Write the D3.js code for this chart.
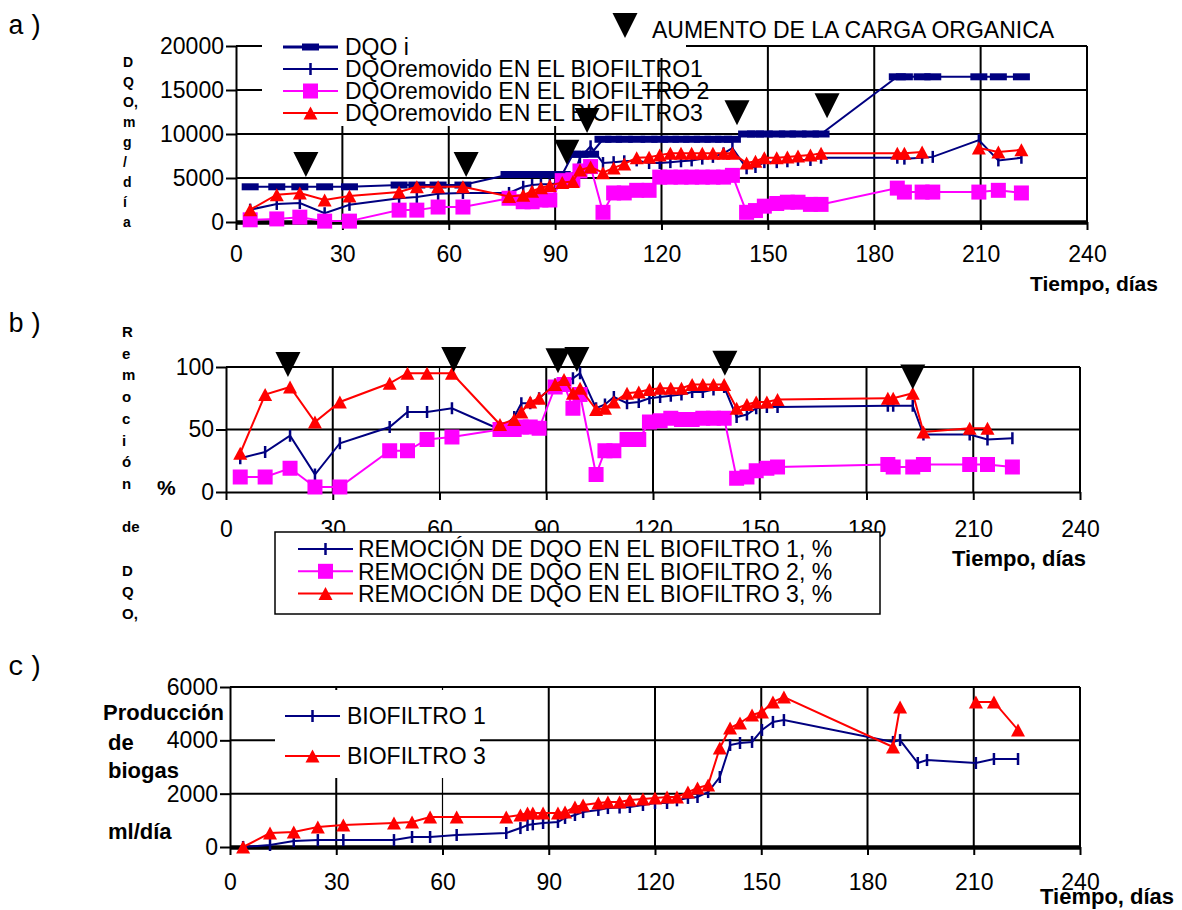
<!DOCTYPE html>
<html lang="es">
<head>
<meta charset="utf-8">
<title>DQO removida y biogas</title>
<script src="https://d3js.org/d3.v7.min.js"></script>
<style>
  body{margin:0;background:#fff;}
  svg{display:block;font-family:"Liberation Sans",Arial,sans-serif;}
</style>
</head>
<body>
<svg id="chart" width="1182" height="910"></svg>
<script>

/** Data */

var xTicks = [0, 30, 60, 90, 120, 150, 180, 210, 240];

// a) DQO, mg/dia
var yTicksA = [0, 5000, 10000, 15000, 20000];
var legendA = ["DQO i", "DQOremovido EN EL BIOFILTRO1", "DQOremovido EN EL BIOFILTRO 2", "DQOremovido EN EL BIOFILTRO3"];
var daysA = [4, 11.5, 18, 25, 32, 46, 51, 57, 64, 77, 81, 83.5, 86, 88.5, 92, 95, 97, 100,
	103.5, 106.5, 109.5, 113, 116.5, 119.5, 122.5, 125.5, 128.5, 131.5, 134.5, 137.5, 140,
	144, 146.5, 149, 152.5, 155.5, 158.5, 162, 165, 186.5, 188.5, 193.5, 196.5, 209.5, 215, 221.5];
var dqoI = [4000, 4000, 4000, 4000, 4000, 4200, 4200, 4200, 4200,
	5400, 5400, 5400, 5400, 5400, 5400, 7700, 7700, 7700,
	9400, 9400, 9400, 9400, 9400, 9400, 9400, 9400, 9400, 9400, 9400, 9400, 9400,
	10000, 10000, 10000, 10000, 10000, 10000, 10000, 10000,
	16500, 16500, 16500, 16500, 16500, 16500, 16500];
var remA1 = [1400, 2050, 2150, 1000, 1950, 2700, 2850, 3200, 3300,
	3300, 4000, 4200, 4300, 4300, 4500, 5000, 7300, 8600,
	6700, 6800, 6900, 7000, 6700, 6700, 6800, 6900, 7000, 7200, 7400, 7800, 8400,
	6100, 6250, 6800, 6800, 6900, 7050, 7050, 7300,
	7300, 7200, 7300, 7400, 9300, 7000, 7300];
var remA2 = [250, 350, 550, 100, 100, 1350, 1350, 1700, 1700,
	2700, 2300, 2300, 2500, 2500, 4700, 4800, 5800, 6300,
	1100, 3300, 3300, 3600, 3600, 5100, 5100, 5100, 5100, 5100, 5100, 5100, 5300,
	1100, 1300, 1800, 2100, 2250, 2250, 2000, 2000,
	3850, 3400, 3400, 3400, 3400, 3600, 3300];
var remA3 = [1400, 3100, 3300, 2500, 2950, 3400, 4000, 4000, 4000,
	2900, 3050, 3500, 3900, 4150, 4500, 4600, 5900, 6250,
	5600, 6150, 6600, 7300, 7350, 7600, 7800, 7800, 7800, 7800, 7800, 7800, 7800,
	6700, 6900, 7300, 7300, 7400, 7500, 7600, 7800,
	7800, 7800, 7950, null, 8400, 7950, 8200];
var arrowDaysA = [19.7, 64.9, 93.3, 99, 141.3, 166.7];
var arrowTipA = [5100, 5100, 6500, 10100, 11000, 11800];

// b) Remocion de DQO, %
var yTicksB = [0, 50, 100];
var legendB = ["REMOCIÓN DE DQO EN EL BIOFILTRO 1, %", "REMOCIÓN DE DQO EN EL BIOFILTRO 2, %", "REMOCIÓN DE DQO EN EL BIOFILTRO 3, %"];
var daysB = [4, 11, 18, 25, 32, 46, 51, 56.5, 63.5, 77, 81, 83, 85.5, 88, 92.5, 95, 97.5, 99.5,
	104, 106.5, 109, 112.7, 116, 119, 122, 125, 128, 131, 134, 137, 140,
	143.5, 146.4, 149, 152, 155, 186, 187.5, 193, 196, 209, 214, 221];
var remB1 = [27, 32, 45, 14, 39, 52, 64, 64, 67, 50, 60, 71, 71, 75, 86, 88, 91, 95,
	67, 70, 76, 71, 72, 75, 76, 77, 78, 80, 80, 82, 84,
	60, 62, 67, 68, 68, 69, 69, 69, 46, 46, 42, 43];
var remB2 = [12, 12, 19, 4, 4, 33, 33, 42, 44, 50, 50, 52, 52, 51, 84, 86, 67, 78,
	14, 33, 33, 42, 42, 56, 57, 59, 58, 58, 59, 59, 59,
	11, 12, 17, 19, 20, 22, 20, 20, 22, 22, 22, 20];
var remB3 = [31, 78, 84, 56, 72, 87, 95, 95, 95, 54, 58, 64, 72, 75, 86, 90, 79, 83,
	66, 67, 72, 79, 80, 82, 83, 83, 83, 86, 86, 86, 86,
	67, 70, 72, 72, 74, 75, 75, 79, 48, 51, 51, null];
var arrowDaysB = [17.4, 64, 93.3, 98.6, 140.2, 193];
var arrowTipB = [92, 96, 95, 96, 93, 82];

// c) Produccion de biogas, ml/dia
var yTicksC = [0, 2000, 4000, 6000];
var legendC = ["BIOFILTRO 1", "BIOFILTRO 3"];
var daysC = [3.7, 11.3, 18, 24.8, 32, 46.3, 51.4, 56.5, 64, 78, 82, 84, 85.5, 88.4, 92.6, 94.6, 97.4, 99.7,
	104, 106.7, 110, 112.9, 116.6, 120, 123.4, 126.2, 129.3, 132, 135, 138.3, 141.2, 144, 147.4, 150.2, 153.3, 156.4,
	187.2, 189.2, 194.2, 196.8, 210.6, 215.7, 222.5];
var bioC1 = [0, 75, 225, 260, 260, 260, 375, 375, 450, 525, 710, 825, 850, 900, 940, 1090, 1200, 1310,
	1390, 1460, 1480, 1500, 1575, 1650, 1650, 1750, 1840, 1875, 2060, 2625, 3825, 3900, 3940, 4390, 4690, 4760,
	3940, 4010, 3150, 3260, 3150, 3300, 3300];
var bioC3 = [0, 525, 560, 750, 825, 900, 940, 1125, 1125, 1125, 1200, 1275, 1275, 1275, 1275, 1310, 1500, 1575,
	1650, 1690, 1690, 1760, 1800, 1840, 1875, 1875, 2060, 2210, 2325, 3710, 4460, 4650, 4950, 5060, 5440, 5625,
	3750, 5250, null, null, 5440, 5440, 4390];

var NAVY = "#000080", MAG = "#ff00ff", RED = "#ff0000";

var svg = d3.select("#chart");
svg.append("rect").attr("width", 1182).attr("height", 910).attr("fill", "#fff");

/** Marker shapes, centred on the point */

function shape(type){
	if (type === "tick") return "M0,-6V6";
	if (type === "square") return "M-7.5,-7.5h15v15h-15z";
	if (type === "triangle") return "M-7,6.5L7,6.5L0,-6.5Z";
	if (type === "dash") return "M-8.5,-3.5h17v7h-17z";
	return "M-12.5,-25L12.5,-25L0,0Z";   // black arrow, tip on the point
}

function styleMarker(sel, type, color){
	if (type === "tick"){
		sel.attr("fill", "none").attr("stroke", color).attr("stroke-width", 2.5);
	} else {
		sel.attr("fill", color).attr("stroke", "none");
	}
}

/** Grid, axes and tick labels of one panel */

function drawFrame(x, y, yTicks, baseWidth, thinDay, labelY){
	var g = svg.append("g");
	var x0 = x(0), x1 = x(240), y0 = y(0), yTop = y(yTicks[yTicks.length - 1]);

	g.selectAll(null).data(yTicks.filter(function(v){ return v > 0; })).enter()
		.append("line")
		.attr("x1", x0).attr("x2", x1)
		.attr("y1", function(v){ return y(v); })
		.attr("y2", function(v){ return y(v); })
		.attr("stroke", "#000").attr("stroke-width", 2);

	g.selectAll(null).data(xTicks.filter(function(d){ return d > 0; })).enter()
		.append("line")
		.attr("x1", function(d){ return x(d); })
		.attr("x2", function(d){ return x(d); })
		.attr("y1", yTop).attr("y2", y0)
		.attr("stroke", "#000")
		.attr("stroke-width", function(d){ return d === thinDay ? 1.2 : 2; });

	var gy = svg.append("g").attr("transform", "translate(" + x0 + ",0)")
		.call(d3.axisLeft(y).tickValues(yTicks).tickSize(10).tickSizeOuter(0).tickFormat(d3.format("d")));
	var gx = svg.append("g").attr("transform", "translate(0," + y0 + ")")
		.call(d3.axisBottom(x).tickValues(xTicks).tickSize(8).tickSizeOuter(0).tickFormat(d3.format("d")));

	[gy, gx].forEach(function(a){
		a.attr("font-size", 23).attr("font-family", null);
		a.selectAll("text").attr("fill", "#000");
		a.selectAll(".tick line").attr("stroke", "#000").attr("stroke-width", 2);
		a.select(".domain").attr("stroke", "#000").attr("stroke-width", 2);
	});
	gx.select(".domain").attr("stroke-width", baseWidth);
	gx.selectAll("text").attr("y", labelY).attr("dy", 0);
	gy.selectAll("text").attr("x", -12);
}

/** One data series: line with gaps at nulls, then markers */

function drawSeries(x, y, days, vals, color, type, lineWidth){
	var pts = days.map(function(d, i){ return {d: d, v: vals[i]}; });
	var line = d3.line()
		.defined(function(p){ return p.v !== null; })
		.x(function(p){ return x(p.d); })
		.y(function(p){ return y(p.v); });
	var g = svg.append("g");
	g.append("path").attr("d", line(pts))
		.attr("fill", "none").attr("stroke", color).attr("stroke-width", lineWidth || 2);
	var m = g.selectAll(null).data(pts.filter(function(p){ return p.v !== null; })).enter()
		.append("path")
		.attr("transform", function(p){ return "translate(" + x(p.d) + "," + y(p.v) + ")"; })
		.attr("d", shape(type));
	styleMarker(m, type, color);
}

function drawArrows(x, y, days, tips){
	svg.append("g").selectAll(null).data(days).enter()
		.append("path")
		.attr("transform", function(d, i){ return "translate(" + x(d) + "," + y(tips[i]) + ")"; })
		.attr("d", shape("arrow"))
		.attr("fill", "#000");
}

function legendRow(x1, x2, tx, cy, name, color, type){
	var g = svg.append("g");
	g.append("line").attr("x1", x1).attr("x2", x2).attr("y1", cy).attr("y2", cy)
		.attr("stroke", color).attr("stroke-width", type === "dash" ? 3 : 2);
	var m = g.append("path").attr("transform", "translate(" + ((x1 + x2) / 2) + "," + cy + ")")
		.attr("d", shape(type));
	styleMarker(m, type, color);
	g.append("text").attr("x", tx).attr("y", cy).attr("dy", "0.36em")
		.attr("font-size", 23).text(name);
}

function stackedText(lines, x, y0, step, size){
	svg.append("g").selectAll(null).data(lines).enter()
		.append("text")
		.attr("x", x)
		.attr("y", function(d, i){ return y0 + i * step; })
		.attr("font-size", size).attr("font-weight", "bold")
		.text(function(d){ return d; });
}

function plainText(str, x, y, size, bold, family){
	var t = svg.append("text").attr("x", x).attr("y", y)
		.attr("font-size", size)
		.attr("font-weight", bold ? "bold" : null)
		.text(str);
	if (family) t.attr("font-family", family).attr("letter-spacing", 3);
}

/** Panel a */

var xA = d3.scaleLinear().domain([0, 240]).range([236, 1087]);
var yA = d3.scaleLinear().domain([0, 20000]).range([222, 46]);
drawFrame(xA, yA, yTicksA, 4.5, null, 40);

svg.append("rect").attr("x", 262).attr("y", 36).attr("width", 424).attr("height", 22).attr("fill", "#fff");
svg.append("rect").attr("x", 262).attr("y", 58).attr("width", 380).attr("height", 68).attr("fill", "#fff");
var typesA = ["dash", "tick", "square", "triangle"];
var colorsA = [NAVY, NAVY, MAG, RED];
legendA.forEach(function(n, i){ legendRow(283, 338, 345, 47 + i * 22, n, colorsA[i], typesA[i]); });

svg.append("path").attr("transform", "translate(625,38)").attr("d", shape("arrow")).attr("fill", "#000");
plainText("AUMENTO DE LA CARGA ORGANICA", 652, 38, 23);

drawSeries(xA, yA, daysA, dqoI, NAVY, "dash");
drawSeries(xA, yA, daysA, remA1, NAVY, "tick");
drawSeries(xA, yA, daysA, remA2, MAG, "square");
drawSeries(xA, yA, daysA, remA3, RED, "triangle");
drawArrows(xA, yA, arrowDaysA, arrowTipA);

stackedText(["D", "Q", "O,", "m", "g", "/", "d", "í", "a"], 123, 67, 20, 14);
plainText("Tiempo, días", 1030, 291, 21, true);
plainText("a)", 8, 34, 27, false, "'Liberation Mono', monospace");

/** Panel b */

var xB = d3.scaleLinear().domain([0, 240]).range([226, 1080]);
var yB = d3.scaleLinear().domain([0, 100]).range([492, 367]);
drawFrame(xB, yB, yTicksB, 2, 60, 45);

drawSeries(xB, yB, daysB, remB1, NAVY, "tick");
drawSeries(xB, yB, daysB, remB2, MAG, "square");
drawSeries(xB, yB, daysB, remB3, RED, "triangle");
drawArrows(xB, yB, arrowDaysB, arrowTipB);

svg.append("rect").attr("x", 275).attr("y", 532).attr("width", 605).attr("height", 82)
	.attr("fill", "#fff").attr("stroke", "#000").attr("stroke-width", 1.5);
var typesB = ["tick", "square", "triangle"];
var colorsB = [NAVY, MAG, RED];
legendB.forEach(function(n, i){ legendRow(298, 353, 358, 549 + i * 22.3, n, colorsB[i], typesB[i]); });

stackedText(["R", "e", "m", "o", "c", "i", "ó", "n", "", "de", "", "D", "Q", "O,"], 122, 337, 21.7, 15);
plainText("%", 157, 495, 21, true);
plainText("Tiempo, días", 952, 566, 22, true);
plainText("b)", 8, 332, 27, false, "'Liberation Mono', monospace");

/** Panel c */

var xC = d3.scaleLinear().domain([0, 240]).range([230, 1080]);
var yC = d3.scaleLinear().domain([0, 6000]).range([847, 687]);
drawFrame(xC, yC, yTicksC, 4.5, 60, 43);

svg.append("rect").attr("x", 275).attr("y", 690).attr("width", 205).attr("height", 88).attr("fill", "#fff");
var typesC = ["tick", "triangle"];
var colorsC = [NAVY, RED];
legendC.forEach(function(n, i){ legendRow(285, 340, 347, 716 + i * 40, n, colorsC[i], typesC[i]); });

drawSeries(xC, yC, daysC, bioC1, NAVY, "tick");
drawSeries(xC, yC, daysC, bioC3, RED, "triangle");

plainText("Producción", 103, 720, 22, true);
plainText("de", 108, 750, 22, true);
plainText("biogas", 108, 778, 22, true);
plainText("ml/día", 108, 839, 22, true);
plainText("Tiempo, días", 1040, 904, 22, true);
plainText("c)", 8, 675, 27, false, "'Liberation Mono', monospace");

</script>
</body>
</html>
